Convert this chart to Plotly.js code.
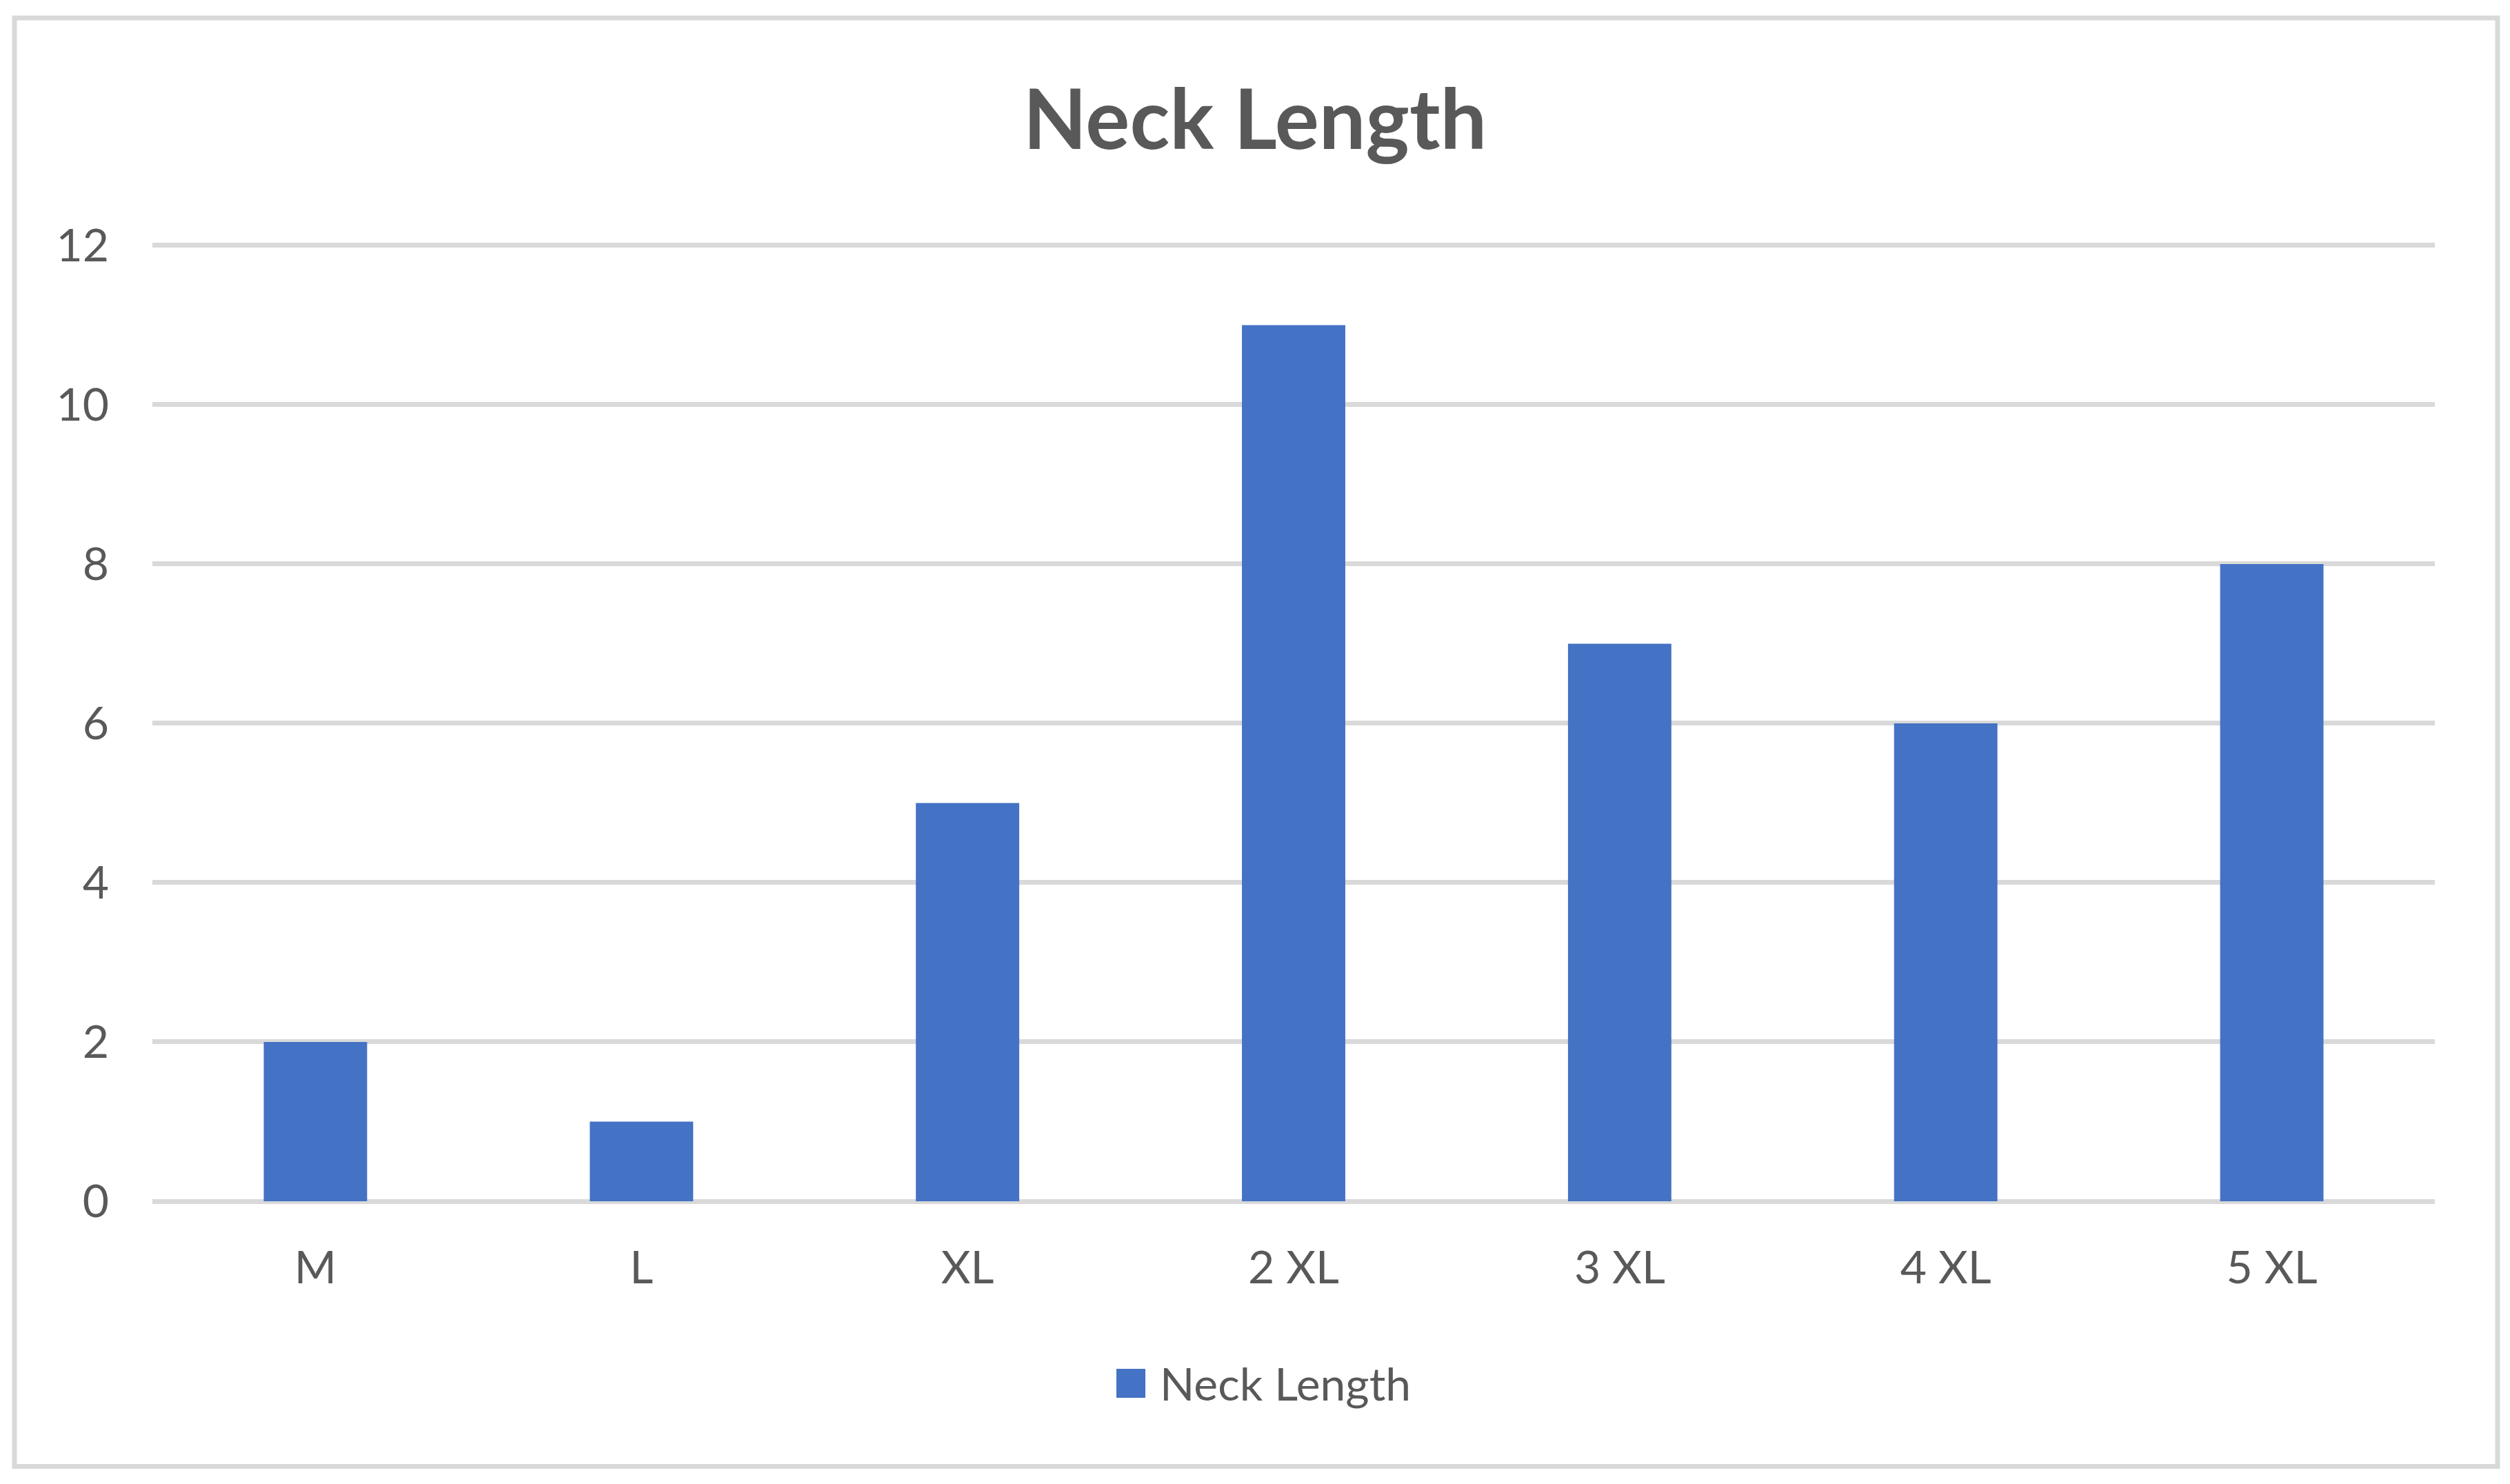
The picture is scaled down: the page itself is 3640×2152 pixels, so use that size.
<!DOCTYPE html>
<html>
<head>
<meta charset="utf-8">
<script src="https://cdn.plot.ly/plotly-3.0.1.min.js"></script>
<style>html,body{margin:0;padding:0;background:#fff;}#chart{width:3640px;height:2152px;}</style>
</head>
<body>
<div id="chart"></div>
<script>
const chartTitle = "Neck Length";
const seriesName = "Neck Length";
const categories = ["M", "L", "XL", "2 XL", "3 XL", "4 XL", "5 XL"];
const neckLength = [2, 1, 5, 11, 7, 6, 8];
const yTickValues = [0, 2, 4, 6, 8, 10, 12];

const textColor = "#595959";
const gridColor = "#D9D9D9";
const barColor = "#4472C4";
const fontFamily = "Lato, 'Open Sans', sans-serif";

// plot area geometry (pixels)
const plotLeft = 221, plotRight = 3531, plotBottom = 1742;
const unitPx = (1742 - 355.5) / 12;
const yMax = 12.06;
const plotTop = plotBottom - yMax * unitPx;
const plotW = plotRight - plotLeft, plotH = plotBottom - plotTop;
const px = v => (v - plotLeft) / plotW;
const py = v => (plotBottom - v) / plotH;

const trace = {
  type: "bar",
  x: categories,
  y: neckLength,
  name: seriesName,
  marker: {color: barColor, line: {width: 0}},
  showlegend: false,
  hoverinfo: "x+y"
};

const layout = {
  width: 3640,
  height: 2152,
  paper_bgcolor: "#ffffff",
  plot_bgcolor: "#ffffff",
  margin: {l: plotLeft, r: 3640 - plotRight, t: plotTop, b: 2152 - plotBottom, pad: 0},
  bargap: 0.683,
  showlegend: false,
  font: {family: fontFamily, color: textColor, size: 66},
  title: {
    text: chartTitle,
    font: {family: fontFamily, size: 120, color: textColor, weight: "bold"},
    x: 0.5,
    xref: "container",
    xanchor: "center",
    y: 1 - 174 / 2152,
    yref: "container",
    yanchor: "middle"
  },
  xaxis: {
    type: "category",
    showgrid: false,
    showline: false,
    zeroline: false,
    ticks: "",
    tickfont: {family: fontFamily, size: 66, color: textColor},
    ticklabelstandoff: 52
  },
  yaxis: {
    range: [0, yMax],
    tickvals: yTickValues,
    ticktext: yTickValues.map(String),
    showgrid: true,
    gridcolor: gridColor,
    gridwidth: 7,
    zeroline: true,
    zerolinecolor: gridColor,
    zerolinewidth: 7,
    showline: false,
    ticks: "",
    tickfont: {family: fontFamily, size: 66, color: textColor},
    ticklabelstandoff: 62
  },
  shapes: [
    {
      type: "rect", xref: "paper", yref: "paper",
      x0: px(21), x1: px(3622),
      y0: py(2126.5), y1: py(25.5),
      line: {color: gridColor, width: 7},
      fillcolor: "rgba(0,0,0,0)",
      layer: "below"
    },
    {
      type: "rect", xref: "paper", yref: "paper",
      x0: px(1619), x1: px(1661),
      y0: py(2027), y1: py(1985),
      line: {width: 0},
      fillcolor: barColor
    }
  ],
  annotations: [
    {
      text: seriesName,
      xref: "paper", yref: "paper",
      x: px(1680),
      y: py(2006),
      xanchor: "left", yanchor: "middle",
      showarrow: false,
      font: {family: fontFamily, size: 66, color: textColor}
    }
  ]
};

Plotly.newPlot("chart", [trace], layout, {displayModeBar: false, staticPlot: true});
</script>
</body>
</html>
